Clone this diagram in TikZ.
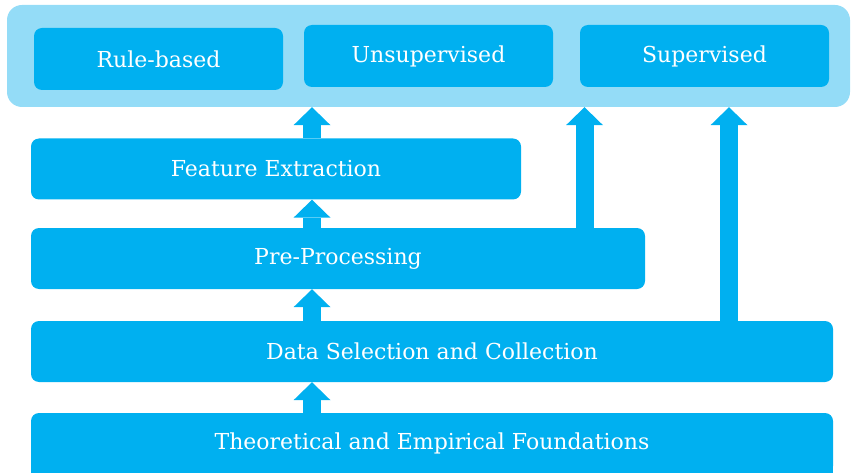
\documentclass[tikz,border=0pt]{standalone}
\usepackage{fontspec}
\setmainfont{DejaVu Serif}
\usetikzlibrary{arrows.meta}
\definecolor{mainblue}{HTML}{00B0F0}
\definecolor{lightblue}{HTML}{94DCF7}
\tikzset{
  box/.style={fill=mainblue, rounded corners=8pt, text=white, inner sep=0pt,
    font=\fontsize{22}{25}\selectfont, minimum height=61pt},
  topbox/.style={box, minimum width=249pt, minimum height=62pt},
  bgbox/.style={fill=lightblue, rounded corners=15pt, inner sep=0pt},
  barrow/.style={draw=mainblue, line width=18pt,
    -{Triangle[width=37pt,length=18pt,line width=0pt,fill=mainblue]}},
}
\begin{document}
\begin{tikzpicture}[x=1pt,y=-1pt]
\useasboundingbox (0,0) rectangle (851,473);
% top group
\node[bgbox, minimum width=843pt, minimum height=102pt] (bg) at (428.5,56) {};
\node[topbox] (rb) at (158.5,59) {Rule-based};
\node[topbox] (un) at (428.5,56) {Unsupervised};
\node[topbox] (su) at (704.5,56) {Supervised};
% stack
\node[box, minimum width=490pt] (fe) at (276,169) {Feature Extraction};
\node[box, minimum width=614pt] (pp) at (338,258.5) {Pre-Processing};
\node[box, minimum width=802pt] (ds) at (432,351.5) {Data Selection and Collection};
\node[box, minimum width=802pt] (th) at (432,443.5) {Theoretical and Empirical Foundations};
\fill[mainblue] (th.south west) rectangle ([yshift=12pt]th.south east);
% arrow columns
\coordinate (cx) at (312,0);
\coordinate (ux) at (584.5,0);
\coordinate (sx) at (729,0);
% arrows
\draw[barrow] (fe.north -| cx) -- (bg.south -| cx);
\draw[barrow] (pp.north -| cx) -- (fe.south -| cx);
\draw[barrow] (ds.north -| cx) -- (pp.south -| cx);
\draw[barrow] (th.north -| cx) -- (ds.south -| cx);
\draw[barrow] (pp.north -| ux) -- (bg.south -| ux);
\draw[barrow] (ds.north -| sx) -- (bg.south -| sx);
\end{tikzpicture}
\end{document}
